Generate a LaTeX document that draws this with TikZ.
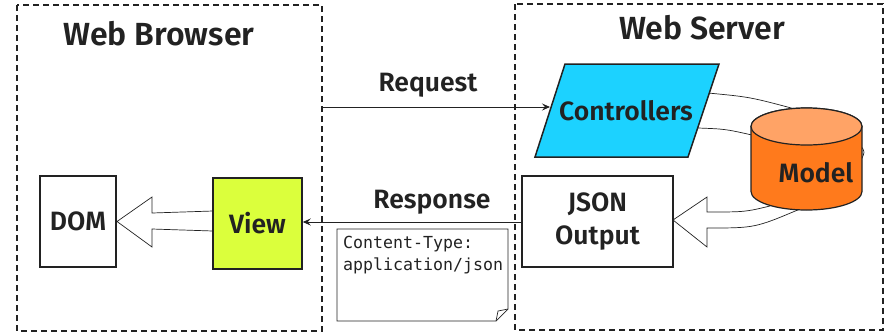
\documentclass[tikz,border=0pt]{standalone}
\usepackage{fontspec}
\setmainfont{Fira Sans}[BoldFont={Fira Sans SemiBold}]
\newfontfamily\notemono{DejaVu Sans Mono}
\usetikzlibrary{arrows.meta}
\definecolor{ink}{HTML}{222222}
\definecolor{ctrlblue}{HTML}{1CD2FF}
\definecolor{viewlime}{HTML}{DBFF3C}
\definecolor{modelorange}{HTML}{FF7A1C}
\definecolor{modeltop}{HTML}{FFA366}
\tikzset{
  zone/.style={draw=ink, line width=1.2pt, dash pattern=on 6pt off 4pt},
  title/.style={font=\bfseries\fontsize{32}{36}\selectfont, text=ink},
  label/.style={font=\bfseries\fontsize{26.5}{30}\selectfont, text=ink},
  boxtext/.style={font=\bfseries\fontsize{26.5}{33}\selectfont, text=ink, align=center},
  solidbox/.style={draw=ink, line width=1.5pt},
  wire/.style={draw=ink, line width=0.9pt, -{Stealth[length=8pt,width=7pt,inset=3pt]}},
  fatarrow/.style={draw=ink, fill=white, line width=0.7pt, line join=miter},
  thin/.style={draw=ink, line width=0.7pt},
}
\begin{document}
\begin{tikzpicture}[x=1pt,y=-1pt]
\useasboundingbox (0,0) rectangle (894,333);

% containers
\draw[zone] (17,5) rectangle (322,331);
\draw[zone] (515,4) rectangle (883,330);
\node[title] (browsertitle) at (159,34) {Web Browser};
\node[title] (servertitle) at (702,28) {Web Server};

% hollow arrow from the view to the DOM
\draw[fatarrow] (213,211) -- (152,213) -- (152,197) -- (117,221.5)
  -- (152,247) -- (152,229) -- (213,231);

% hollow arrow from the model to the JSON output
\draw[fatarrow] (770,206) .. controls (745,212) .. (707,212) -- (707,197)
  -- (673,220) -- (707,247) -- (707,228) .. controls (755,228) .. (800,209);

% link between controllers and model
\draw[thin] (708,93) .. controls (750,97) .. (795,109);
\draw[thin] (698,128) .. controls (725,129) .. (752,135);
\draw[thin] (861,146) .. controls (865,152) .. (861,160);

% controllers
\draw[solidbox, fill=ctrlblue] (565,64) -- (719,64) -- (688,157) -- (535,157) -- cycle;
\node[boxtext] (ctrl) at (626,111) {Controllers};
\coordinate (ctrlin) at (550,107);

% model cylinder
\draw[solidbox, line width=1.2pt, fill=modelorange] (751,126.5) -- (751,191.5)
  arc[start angle=180, end angle=360, x radius=55.5pt, y radius=18.5pt]
  -- (862,126.5)
  arc[start angle=0, end angle=180, x radius=55.5pt, y radius=18.5pt] -- cycle;
\draw[solidbox, line width=1.2pt, fill=modeltop] (806.5,126.5) ellipse[x radius=55.5pt, y radius=18.5pt];
\node[boxtext] (model) at (816,173) {Model};

% JSON output
\node[solidbox, fill=white, boxtext, minimum width=151pt, minimum height=91pt, inner sep=0pt]
  (json) at (597.5,221.5) {JSON\\Output};

% browser side boxes
\node[solidbox, fill=white, boxtext, minimum width=76pt, minimum height=91pt, inner sep=0pt]
  (dom) at (78,221.5) {DOM};
\node[solidbox, fill=viewlime, boxtext, minimum width=89pt, minimum height=91pt, inner sep=0pt]
  (view) at (257.5,223.5) {View};

% request / response
\coordinate (reqstart) at (322,107);
\draw[wire] (reqstart) -- (ctrlin);
\node[label] (req) at (428,85) {Request};
\draw[wire] (json.west |- 0,222) -- (view.east |- 0,222);
\node[label] (resp) at (432,202) {Response};

% note
\draw[thin, fill=white] (337,229) -- (508,229) -- (508,309) -- (496,321) -- (337,321) -- cycle;
\draw[thin] (508,309) -- (498,311) -- (496,321);
\node[anchor=north west, font=\notemono\fontsize{16.6}{22}\selectfont, text=ink, align=left, inner sep=0pt]
  (note) at (343,236) {Content-Type:\\application/json};
\end{tikzpicture}
\end{document}
